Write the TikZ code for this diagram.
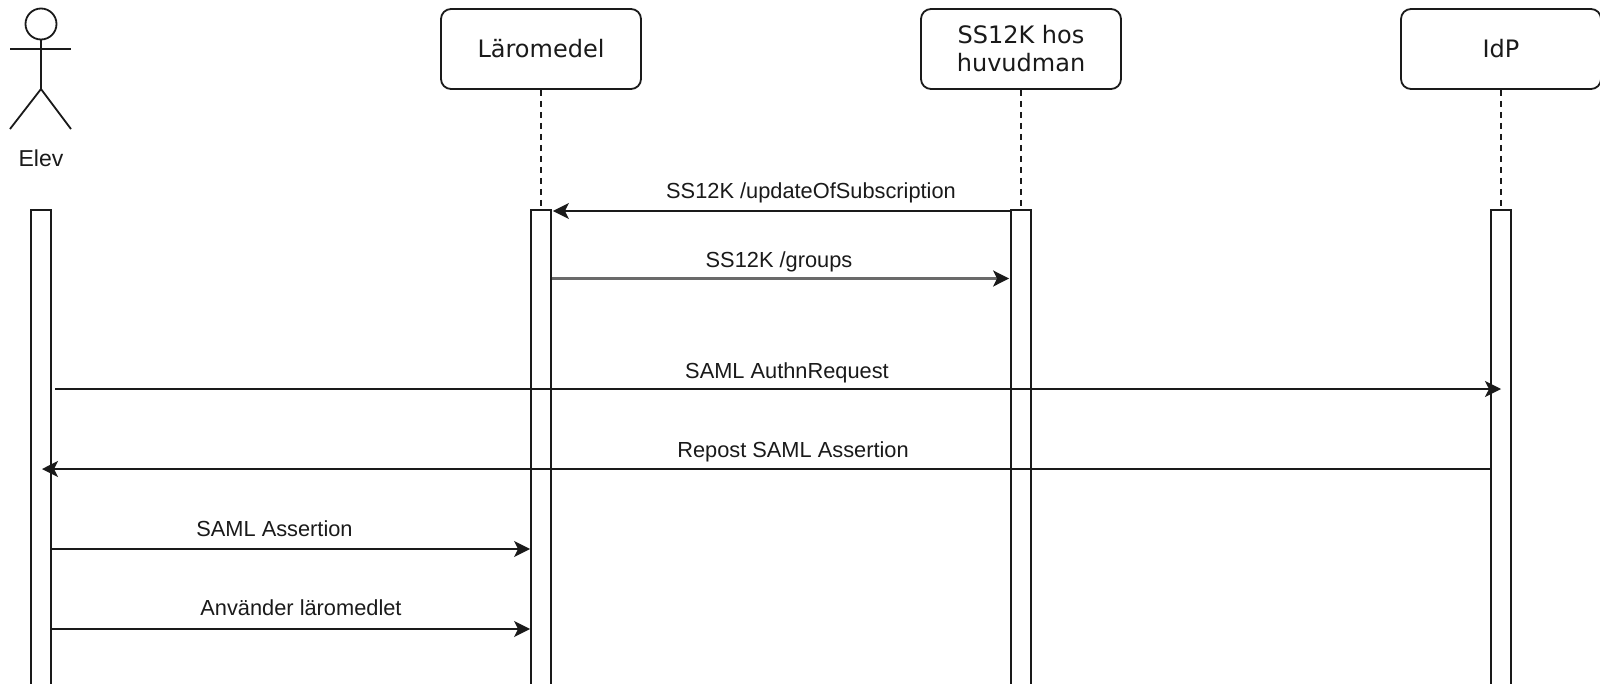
\documentclass[tikz,border=0pt]{standalone}
\usepackage{fontspec}
\setmainfont{Liberation Sans}
\newfontfamily\boxfont{DejaVu Sans}
\usetikzlibrary{arrows.meta}
\definecolor{ink}{HTML}{1A1A1A}
\tikzset{
  lifebox/.style={draw=ink,line width=1.8pt,rounded corners=10pt,fill=white,minimum width=200pt,minimum height=80pt,inner sep=0pt,align=center,font=\boxfont\fontsize{24}{28}\selectfont,text=ink},
  bar/.style={draw=ink,line width=1.8pt,fill=white,minimum width=20pt,minimum height=490pt,inner sep=0pt,anchor=north},
  lifeline/.style={draw=ink,line width=1.5pt,dash pattern=on 6pt off 5pt},
  msg/.style={draw=ink,line width=1.8pt,-{Stealth[length=16pt,width=16pt,inset=4pt]}},
  graymsg/.style={draw=ink!65,line width=2.4pt,-{Stealth[length=16pt,width=16pt,inset=4pt,color=ink,fill=ink]}},
  lbl/.style={inner sep=0pt,font=\fontsize{21.8}{24}\selectfont,text=ink},
  limb/.style={draw=ink,line width=1.8pt}
}
\begin{document}
\begin{tikzpicture}[x=1pt,y=-1pt]
\clip (0,0) rectangle (1600,683);
\fill[white] (0,0) rectangle (1600,683);
% participants
\node[lifebox] (lm) at (541,49) {\raisebox{-1pt}{Läromedel}};
\node[lifebox] (ss) at (1021,49) {SS12K hos\\huvudman};
\node[lifebox] (idp) at (1501,49) {\raisebox{-3pt}{IdP}};
% actor
\node[draw=ink,line width=1.8pt,circle,minimum size=31pt,inner sep=0pt] (head) at (41,24) {};
\coordinate (armL) at (10,49);
\coordinate (armR) at (71,49);
\coordinate (hip) at (41,89);
\coordinate (footL) at (10,129);
\coordinate (footR) at (71,129);
\draw[limb] (head.south) -- (hip);
\draw[limb] (armL) -- (armR);
\draw[limb] (footL) -- (hip) -- (footR);
\node[lbl,font=\fontsize{23}{26}\selectfont] (elev) at (41,158) {Elev};
% activation bars
\node[bar] (ae) at (41,209) {};
\node[bar] (al) at (541,209) {};
\node[bar] (as) at (1021,209) {};
\node[bar] (ai) at (1501,209) {};
% lifelines
\draw[lifeline] (lm.south) -- (al.north);
\draw[lifeline] (ss.south) -- (as.north);
\draw[lifeline] (idp.south) -- (ai.north);
% rows
\coordinate (r1) at (0,211);
\coordinate (r2) at (0,278.5);
\coordinate (r4) at (0,469);
\coordinate (r5) at (0,549);
\coordinate (r6) at (0,629);
\coordinate (authS) at (55,389);
\coordinate (authE) at (1501,389);
\coordinate (repE) at (42,469);
% messages
\draw[msg] (as.west |- r1) -- ([xshift=1pt]al.east |- r1);
\draw[graymsg] (al.east |- r2) -- ([xshift=-1pt]as.west |- r2);
\draw[msg] (authS) -- (authE);
\draw[msg] (ai.west |- r4) -- (repE);
\draw[msg] (ae.east |- r5) -- (al.west |- r5);
\draw[msg] (ae.east |- r6) -- (al.west |- r6);
% labels
\node[lbl] (t1) at (811,193) {SS12K /updateOfSubscription};
\node[lbl] (t2) at (779,262) {SS12K /groups};
\node[lbl] (t3) at (787,373) {SAML AuthnRequest};
\node[lbl] (t4) at (793,452) {Repost SAML Assertion};
\node[lbl] (t5) at (274.5,529) {SAML Assertion};
\node[lbl] (t6) at (301,608) {Använder läromedlet};
\end{tikzpicture}
\end{document}
